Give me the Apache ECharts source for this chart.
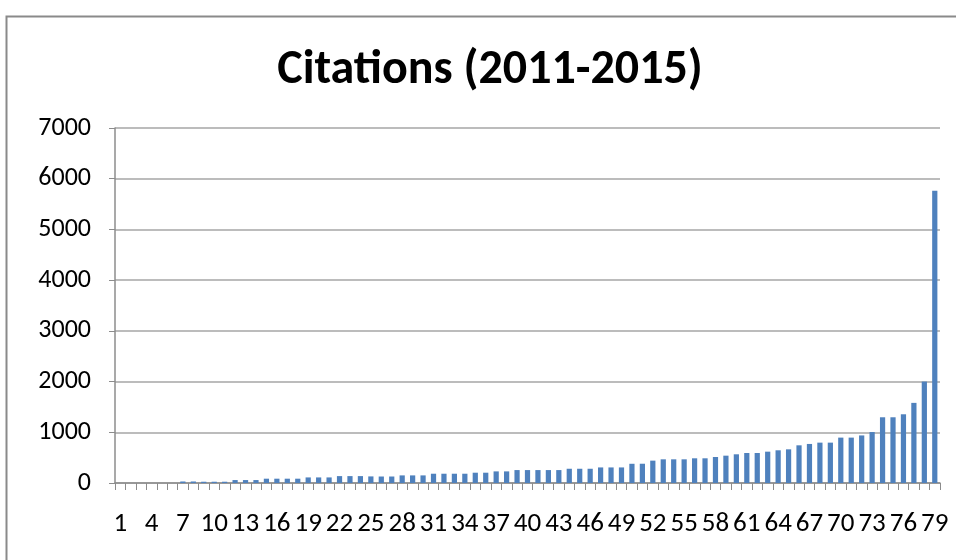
<!DOCTYPE html>
<html>
<head>
<meta charset="utf-8">
<script src="https://cdn.jsdelivr.net/npm/echarts@6/dist/echarts.min.js"></script>
<style>
html,body{margin:0;padding:0;background:#fff;}
#c{width:956px;height:560px;}
</style>
</head>
<body>
<div id="c"></div>
<script>
const titleText = 'Citations (2011-2015)';
const categories = [];
for (let i = 1; i <= 79; i++) categories.push(String(i));
const citations = [
  0, 0, 0, 0, 0, 0, 30, 30, 25, 25,
  25, 58, 58, 58, 85, 85, 85, 85, 110, 110,
  110, 136, 136, 136, 130, 128, 128, 150, 150, 150,
  183, 183, 183, 183, 203, 203, 229, 229, 255, 255,
  255, 255, 255, 281, 281, 281, 307, 307, 307, 379,
  380, 441, 467, 467, 467, 487, 487, 513, 539, 566,
  592, 592, 618, 645, 664, 743, 770, 796, 796, 895,
  895, 938, 1005, 1296, 1296, 1355, 1580, 2000, 5765
];
const yTicks = { min: 0, max: 7000, interval: 1000 };

const FONT = "Carlito, 'Liberation Sans Narrow', 'Liberation Sans', sans-serif";
const chart = echarts.init(document.getElementById('c'), null, { renderer: 'canvas' });
chart.setOption({
  animation: false,
  backgroundColor: '#ffffff',
  graphic: [{
    type: 'rect', left: 4, top: 14, z: -1,
    shape: { width: 1000, height: 600 },
    style: { fill: 'none', stroke: '#8a8a8a', lineWidth: 2 }
  }],
  title: {
    text: titleText, left: 485, textAlign: 'center', top: 42,
    textStyle: { fontFamily: FONT, fontWeight: 'bold', fontSize: 48, color: '#000' }
  },
  grid: { left: 115, right: 16, top: 128, bottom: 77, containLabel: false },
  xAxis: {
    type: 'category', data: categories,
    axisLine: { lineStyle: { color: '#8c8c8c', width: 1.5 } },
    axisTick: { show: true, alignWithLabel: false, interval: 0, length: 7, lineStyle: { color: '#8c8c8c' } },
    axisLabel: { interval: 2, color: '#000', fontFamily: FONT, fontSize: 27, margin: 28 },
    splitLine: { show: false }
  },
  yAxis: {
    type: 'value', min: yTicks.min, max: yTicks.max, interval: yTicks.interval,
    axisLine: { show: true, lineStyle: { color: '#8c8c8c', width: 1.5 } },
    axisTick: { show: true, length: 6, inside: false, lineStyle: { color: '#8c8c8c' } },
    axisLabel: { color: '#000', fontFamily: FONT, fontSize: 26, margin: 24, formatter: v => String(v) },
    splitLine: { show: true, lineStyle: { color: '#a6a6a6', width: 1.5 } }
  },
  series: [{
    type: 'bar', data: citations, barCategoryGap: '50%',
    itemStyle: { color: '#4f81bd' }
  }]
});
</script>
</body>
</html>
